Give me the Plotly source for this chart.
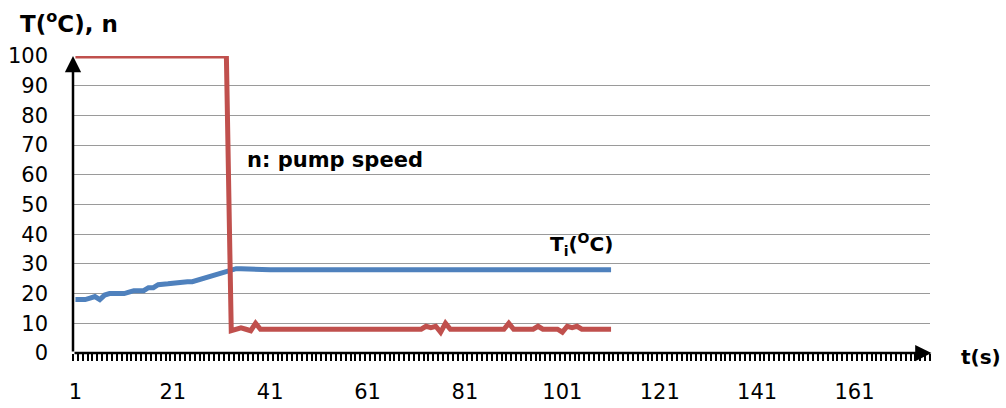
import plotly.graph_objects as go

# ---- data ----
categories = list(range(1, 112))  # time steps 1..111

temperature_ti = [
    18, 18, 18, 18.5, 19, 18, 19.5, 20, 20, 20,
    20, 20.5, 21, 21, 21, 22, 22, 23, 23, 23.3,
    23.5, 23.8, 24, 24, 24, 24.5, 25, 25.3, 25.7, 26.5,
    27, 27.3, 28, 28.4, 28.4, 28.3, 28, 28, 28, 28,
] + [28] * 20 + [28.2] + [28] * 37 + [28.2] + [28] * 12

pump_speed = [100] * 32 + [
    7.5, 8, 8.5, 8, 7.5, 10, 8,
] + [8] * 33 + [
    9, 8.5, 9, 7, 10, 8,
] + [8] * 11 + [10] + [8] * 5 + [9] + [8] * 4 + [
    7, 9, 8.5, 9, 8,
] + [8] * 6

n = len(categories)
temperature_ti = temperature_ti[:n]
pump_speed = pump_speed[:n]

x_tick_labels = [1, 21, 41, 61, 81, 101, 121, 141, 161]
y_ticks = list(range(0, 101, 10))
x_range = [0.5, 176.5]

RED = "#C0504D"
BLUE = "#4F81BD"
FONT = "DejaVu Sans"

fig = go.Figure()
fig.add_trace(go.Scatter(x=categories, y=temperature_ti, mode="lines",
                         line=dict(color=BLUE, width=5), name="Ti"))
fig.add_trace(go.Scatter(x=categories, y=pump_speed, mode="lines",
                         line=dict(color=RED, width=5), name="n"))

L, T = 72.6, 56
W, H = 1006, 408
R = W - 929.7
B = H - 353

fig.update_layout(
    width=W, height=H,
    margin=dict(l=L, r=R, t=T, b=B, pad=0),
    paper_bgcolor="white", plot_bgcolor="white",
    showlegend=False,
    font=dict(family=FONT, size=20, color="black"),
)

fig.update_xaxes(
    range=x_range, showgrid=False, zeroline=False, showline=False,
    automargin=False,
    tickmode="array", tickvals=x_tick_labels,
    ticktext=[str(v) for v in x_tick_labels],
    ticks="", ticklabelstandoff=24,
    tickfont=dict(family=FONT, size=21),
    minor=dict(tick0=0.5, dtick=1, ticks="outside", ticklen=7,
               tickwidth=2.4, tickcolor="black", showgrid=False),
)
fig.update_yaxes(
    range=[0, 100], tickmode="array", tickvals=y_ticks,
    automargin=False,
    showgrid=True, gridcolor="#9a9a9a", gridwidth=1,
    zeroline=False, showline=False, ticks="", ticklabelstandoff=24,
    tickfont=dict(family=FONT, size=21),
)

# axis arrows
fig.add_annotation(x=x_range[1] + 0.3, y=0, ax=x_range[0], ay=0,
                   xref="x", yref="y", axref="x", ayref="y",
                   showarrow=True, arrowhead=2, arrowsize=1.3, arrowwidth=2.5,
                   arrowcolor="black", text="")
fig.add_annotation(x=x_range[0], y=100, ax=x_range[0], ay=0,
                   xref="x", yref="y", axref="x", ayref="y",
                   showarrow=True, arrowhead=2, arrowsize=1.3, arrowwidth=2.5,
                   arrowcolor="black", text="")

# texts
common = dict(showarrow=False, xanchor="center", yanchor="middle")
fig.add_annotation(x=(69 - L) / (929.7 - L), y=(353 - 22) / (353 - T),
                   xref="paper", yref="paper",
                   text="<b>T(<sup>o</sup>C), n</b>",
                   font=dict(family=FONT, size=23), **common)
fig.add_annotation(x=(981 - L) / (929.7 - L), y=(353 - 357) / (353 - T),
                   xref="paper", yref="paper",
                   text="<b>t(s)</b>",
                   font=dict(family=FONT, size=20), **common)
fig.add_annotation(x=54.4, y=65, xref="x", yref="y",
                   text="<b>n: pump speed</b>",
                   font=dict(family=FONT, size=21), **common)
fig.add_annotation(x=105, y=36.5, xref="x", yref="y",
                   text="<b>T<sub>i</sub>(<sup>O</sup>C)</b>",
                   font=dict(family=FONT, size=20), **common)

fig.write_html("out.html", config={"displayModeBar": False},
               post_script="document.body.style.margin='0';")
